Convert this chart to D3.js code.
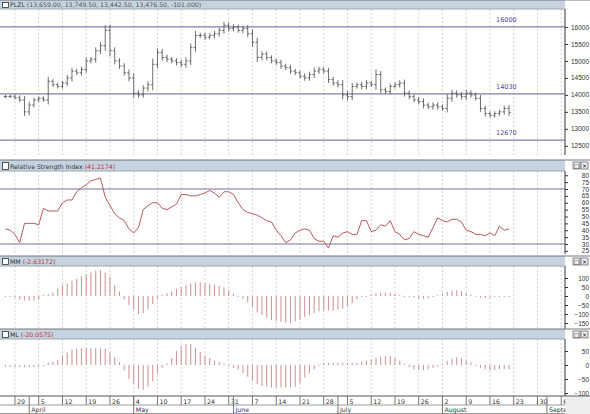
<!DOCTYPE html>
<html><head><meta charset="utf-8">
<script src="https://cdn.jsdelivr.net/npm/d3@7"></script>
<style>body{margin:0;background:#fff}svg{display:block;font-family:"DejaVu Sans",sans-serif}</style>
</head><body><svg id="c" width="590" height="414"></svg>
<script>
// daily closes, PLZL
const closes = [13950,13960,13920,13850,13500,13700,13850,13900,13850,14400,
  14300,14250,14350,14500,14700,14650,14750,15000,15050,15300,
  15450,15900,15300,15000,14850,14650,14500,14050,14000,14200,
  14300,14900,15250,15100,15050,15000,14950,14900,15000,15400,
  15750,15750,15700,15750,15800,15900,16050,15950,16000,15900,
  15950,15800,15550,15100,15200,15100,15000,14950,14850,14800,
  14700,14650,14550,14500,14600,14700,14750,14700,14450,14350,
  14300,14000,13950,14250,14300,14250,14350,14300,14600,14150,
  14100,14250,14300,14350,14050,13950,13850,13800,13700,13650,
  13700,13650,13600,13900,14050,14000,13950,14050,14000,13900,
  13600,13450,13400,13450,13500,13600,13480];
// daily high-low range (points)
const ranges = [150,120,160,200,350,300,200,180,150,400,
  200,180,200,250,300,200,250,300,200,300,
  300,450,500,300,250,250,300,400,250,250,
  300,500,350,300,250,200,250,250,300,350,
  400,250,250,200,250,250,300,250,250,200,
  250,300,400,400,250,250,200,200,250,200,
  250,200,200,250,250,300,250,200,300,250,
  250,400,350,300,200,250,250,200,450,300,
  200,250,200,250,300,250,200,250,300,200,
  250,250,200,350,300,250,250,300,250,200,
  300,250,200,200,200,250,300];
const rsi = [41,40,37,31,45,45,45,44,56,54,
  54,54,60,62,62,68,71,73,76,77,
  78,64,58,52,49,47,41,38,42,55,
  58,60,60,56,55,57,59,66,66,65,
  65,66,67,69,67,64,68,68,66,60,
  55,53,52,51,49,47,46,40,36,31,
  33,38,40,41,40,34,32,32,27,36,
  35,38,39,37,37,47,47,39,40,44,
  43,47,39,37,33,34,39,37,36,35,
  42,49,47,46,48,48,46,40,39,37,
  37,36,38,36,43,40,41];
const mm = [2,0,-10,-20,-25,-25,-25,-20,5,10,
  20,40,60,70,85,95,110,120,130,140,
  145,130,105,60,25,-20,-50,-75,-100,-95,
  -75,-45,-15,5,15,25,40,50,60,70,
  75,77,72,68,62,55,48,30,12,-5,
  -15,-35,-60,-90,-105,-120,-135,-140,-145,-148,
  -150,-140,-130,-115,-105,-95,-85,-80,-80,-80,
  -75,-70,-55,-40,-20,3,2,10,15,20,
  20,18,12,6,1,-5,-10,-15,-15,-12,
  -6,4,14,24,30,32,28,18,8,-4,
  -10,-12,-10,-6,-2,0,2];
const ml = [-6,-6,-7,-7,-8,-8,-8,-6,3,8,
  12,18,35,45,55,58,60,60,60,60,
  60,58,45,28,10,-20,-50,-68,-85,-88,
  -78,-58,-32,-10,5,25,50,68,75,75,
  62,46,33,25,16,10,5,0,-10,-15,
  -28,-42,-58,-68,-75,-78,-80,-80,-80,-80,
  -80,-78,-65,-45,-30,-15,-3,8,8,8,
  8,8,8,8,8,12,15,20,25,30,
  32,32,25,15,5,-8,-15,-18,-18,-15,
  -10,-5,5,15,22,28,25,15,8,0,
  -10,-15,-20,-18,-15,-14,-15];
const levels = [16000, 14030, 12670];
const rsiLevels = [70, 30];
const dayLabels = ["29","5","12","19","26","4","10","17","24","31","7","14","21","28","5","12","19","26","2","9","16","23","30","6"];
const monthLabels = ["April","May","June","July","August","Septe"];
const priceTicks = d3.range(12500, 16001, 500);
const rsiTicks = d3.range(25, 81, 5);
const mmTicks = [100,50,0,-50,-100,-150];
const mlTicks = [50,0,-50,-100];

const svg = d3.select("#c");
const W = 565, nSlots = 119;
const x = d3.scaleBand().domain(d3.range(nSlots)).range([3.1, 3.1 + nSlots*4.75]);
const cx = i => x(i) + x.bandwidth()/2;

// weekday calendar starting Thu 25 Mar 2010
const dates = [];
for (let d = new Date(2010,2,25); dates.length < nSlots; d.setDate(d.getDate()+1)) {
  if (d.getDay() !== 0 && d.getDay() !== 6) dates.push(new Date(d));
}
const mondays = d3.range(2, nSlots, 5);
const monthStarts = d3.range(1, nSlots).filter(i => dates[i].getMonth() !== dates[i-1].getMonth());

const panels = [
  {top:0, bar:9, bottom:155, y:d3.scaleLinear().domain([16600,12200]).range([6.6,156]), ticks:priceTicks, title:"PLZL", val:"(13,659.00, 13,749.50, 13,442.50, 13,476.50, -101.000)", valColor:"#555"},
  {top:160, bar:171, bottom:254, y:d3.scaleLinear().domain([70,30]).range([189,244]), ticks:rsiTicks, title:"Relative Strength Index", val:"(41.2174)", valColor:"#c03030"},
  {top:256, bar:266, bottom:329, y:d3.scaleLinear().domain([0,100]).range([296,278]), ticks:mmTicks, title:"MM", val:"(-2.63172)", valColor:"#c03030"},
  {top:329, bar:339, bottom:396, y:d3.scaleLinear().domain([0,50]).range([365,351]), ticks:mlTicks, title:"ML", val:"(-20.0575)", valColor:"#c03030"}
];

panels.forEach((p, k) => {
  const g = svg.append("g");
  // grid
  g.selectAll(".grid").data(mondays).join("line")
    .attr("x1", i => cx(i)).attr("x2", i => cx(i)).attr("y1", p.bar).attr("y2", p.bottom)
    .attr("stroke", "#c8c8c8").attr("stroke-dasharray", "2,2").attr("stroke-width", 0.8);
  // title bar
  g.append("rect").attr("x", 0).attr("y", p.top).attr("width", W).attr("height", p.bar - p.top)
    .attr("fill", "#c5d3e0");
  g.append("line").attr("x1", 0).attr("x2", 590).attr("y1", p.top).attr("y2", p.top).attr("stroke", "#777");
  g.append("line").attr("x1", 0).attr("x2", W).attr("y1", p.bar).attr("y2", p.bar).attr("stroke", "#9aa");
  g.append("rect").attr("x", 2.5).attr("y", p.top + 2.5).attr("width", 6).attr("height", p.bar - p.top - 4)
    .attr("fill", "#fff").attr("stroke", "#333").attr("stroke-width", 0.8);
  const t = g.append("text").attr("x", 10).attr("y", p.bar - 2).attr("font-size", 6.2).attr("fill", "#333");
  t.append("tspan").text(p.title + " ");
  t.append("tspan").attr("fill", p.valColor).text(p.val);
  if (k > 0) {
    [573, 581].forEach((bx, j) => {
      g.append("rect").attr("x", bx).attr("y", p.top + 2).attr("width", 7).attr("height", 7)
        .attr("fill", "#eee").attr("stroke", "#555").attr("stroke-width", 0.7);
      g.append("text").attr("x", bx + 3.5).attr("y", p.top + 8).attr("text-anchor", "middle")
        .attr("font-size", 6).text(j ? "×" : "□");
    });
  }
  // right axis
  const ax = g.append("g").attr("transform", `translate(${W},0)`)
    .call(d3.axisRight(p.y).tickValues(p.ticks).tickSize(3).tickFormat(d3.format("d")));
  ax.select(".domain").remove();
  ax.selectAll("text").attr("font-size", 6.5).attr("fill", "#333").attr("x", 24).attr("text-anchor", "end");
  ax.selectAll("line").attr("stroke", "#333");
  g.append("line").attr("x1", W).attr("x2", W).attr("y1", p.bar).attr("y2", p.bottom).attr("stroke", "#333");
  p.g = g;
});

// price panel
const pp = panels[0];
pp.g.selectAll(".lvl").data(levels).join("line")
  .attr("x1", 0).attr("x2", W).attr("y1", d => pp.y(d)).attr("y2", d => pp.y(d))
  .attr("stroke", "#8080a8").attr("stroke-width", 1.2);
pp.g.selectAll(".lvlt").data(levels).join("text")
  .attr("x", 496).attr("y", d => pp.y(d) - 5).attr("font-size", 6.5).attr("fill", "#4a4a9a").text(d => d);
const bars = closes.map((c, i) => {
  const o = i ? closes[i-1] : c;
  return {i, o, c, h: Math.max(o, c) + ranges[i]/3, l: Math.min(o, c) - ranges[i]/3};
});
const ob = pp.g.selectAll(".ohlc").data(bars).join("g").attr("stroke", "#4a4a4a").attr("stroke-width", 0.8);
ob.append("line").attr("x1", d => cx(d.i)).attr("x2", d => cx(d.i)).attr("y1", d => pp.y(d.h)).attr("y2", d => pp.y(d.l));
ob.append("line").attr("x1", d => cx(d.i) - 1.8).attr("x2", d => cx(d.i)).attr("y1", d => pp.y(d.o)).attr("y2", d => pp.y(d.o));
ob.append("line").attr("x1", d => cx(d.i)).attr("x2", d => cx(d.i) + 1.8).attr("y1", d => pp.y(d.c)).attr("y2", d => pp.y(d.c));

// RSI
const rp = panels[1];
rp.g.selectAll(".lvl").data(rsiLevels).join("line")
  .attr("x1", 0).attr("x2", W).attr("y1", d => rp.y(d)).attr("y2", d => rp.y(d))
  .attr("stroke", "#7070a0").attr("stroke-width", 1);
rp.g.append("path").datum(rsi).attr("fill", "none").attr("stroke", "#b85a5a").attr("stroke-width", 1)
  .attr("d", d3.line().x((d, i) => cx(i)).y(d => rp.y(d)));

// histograms
[[panels[2], mm], [panels[3], ml]].forEach(([p, vals]) => {
  p.g.selectAll(".hb").data(vals).join("line")
    .attr("x1", (d, i) => cx(i)).attr("x2", (d, i) => cx(i))
    .attr("y1", p.y(0)).attr("y2", d => Math.abs(d) < 4 ? p.y(0) + 1 : p.y(d))
    .attr("stroke", "#d09898").attr("stroke-width", 1.1);
});

// date axis
const da = svg.append("g");
da.append("rect").attr("x", 0).attr("y", 396).attr("width", W).attr("height", 18).attr("fill", "#fff");
da.append("line").attr("x1", 0).attr("x2", 590).attr("y1", 396).attr("y2", 396).attr("stroke", "#555");
da.append("line").attr("x1", 0).attr("x2", W).attr("y1", 405).attr("y2", 405).attr("stroke", "#999");
da.append("line").attr("x1", 0).attr("x2", W).attr("y1", 413.5).attr("y2", 413.5).attr("stroke", "#999");
da.selectAll(".dt").data(mondays).join("line")
  .attr("x1", i => cx(i)).attr("x2", i => cx(i)).attr("y1", 396).attr("y2", 405).attr("stroke", "#777");
da.selectAll(".dl").data(mondays).join("text")
  .attr("x", i => cx(i) + 2).attr("y", 403.5).attr("font-size", 6.3).attr("fill", "#333")
  .text((i, k) => dayLabels[k]);
da.selectAll(".mt").data(monthStarts).join("line")
  .attr("x1", i => cx(i)).attr("x2", i => cx(i)).attr("y1", 396).attr("y2", 414).attr("stroke", "#777");
da.selectAll(".ml").data(monthStarts).join("text")
  .attr("x", i => cx(i) + 2).attr("y", 412).attr("font-size", 6.3).attr("fill", "#333")
  .text((i, k) => monthLabels[k]);
svg.append("rect").attr("x", W + 0.5).attr("y", 397).attr("width", 25).attr("height", 17).attr("fill", "#eee");
</script></body></html>
